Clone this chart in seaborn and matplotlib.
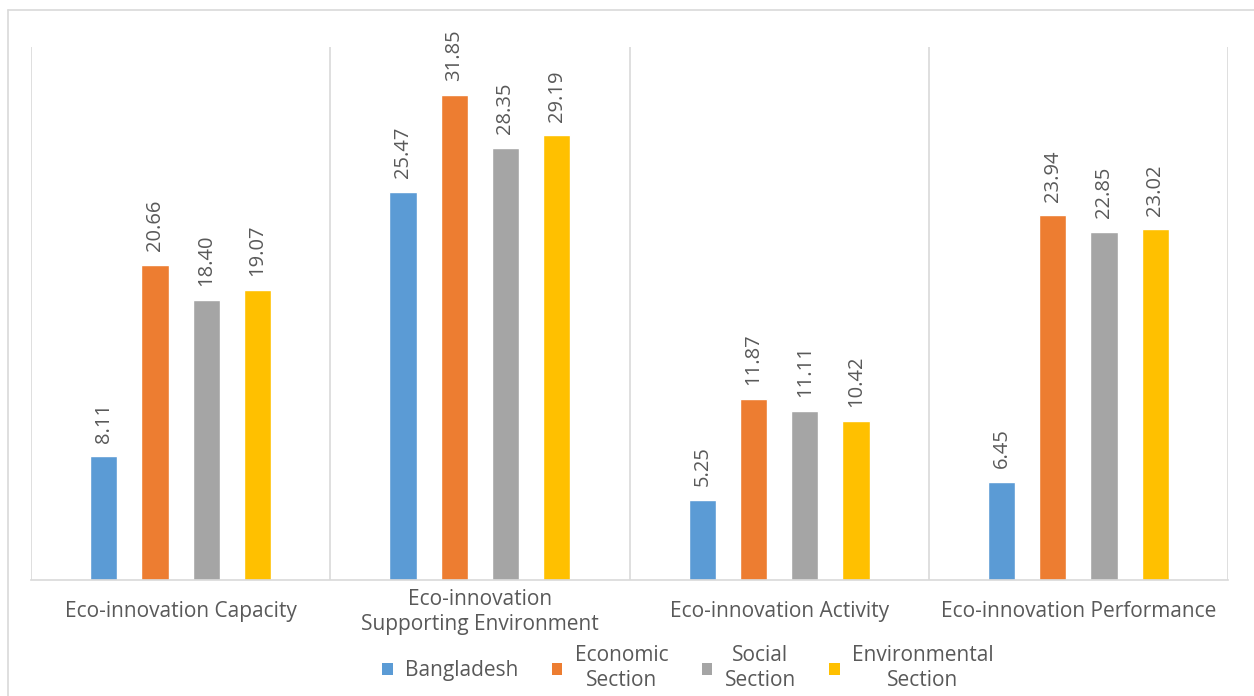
import matplotlib
matplotlib.use("Agg")
import matplotlib.pyplot as plt
import seaborn as sns
import pandas as pd
from matplotlib.patches import Patch
from matplotlib.lines import Line2D

categories = ["Eco-innovation Capacity",
              "Eco-innovation\nSupporting Environment",
              "Eco-innovation Activity",
              "Eco-innovation Performance"]
series = ["Bangladesh", "Economic\nSection", "Social\nSection", "Environmental\nSection"]
bangladesh = [8.11, 25.47, 5.25, 6.45]
economic = [20.66, 31.85, 11.87, 23.94]
social = [18.40, 28.35, 11.11, 22.85]
environmental = [19.07, 29.19, 10.42, 23.02]

colors = ["#5B9BD5", "#ED7D31", "#A5A5A5", "#FFC000"]
text_color = "#595959"
grid_color = "#D9D9D9"

rows = []
for s, vals in zip(series, [bangladesh, economic, social, environmental]):
    for c, v in zip(categories, vals):
        rows.append({"category": c, "series": s, "value": v})
df = pd.DataFrame(rows)

sns.set_theme(style="white")
plt.rcParams["font.family"] = ["Open Sans", "DejaVu Sans"]

fig = plt.figure(figsize=(12.54, 6.96), dpi=100)
ax = fig.add_axes([31/1254, 1-580/696, (1228-31)/1254, (580-47)/696])

sns.barplot(data=df, x="category", y="value", hue="series", order=categories,
            hue_order=series, palette=colors, width=0.685, gap=0.47,
            saturation=1, legend=False, ax=ax, errorbar=None)

for cont in ax.containers:
    ax.bar_label(cont, fmt="%.2f", rotation=90, padding=10, fontsize=14.5,
                 color=text_color)

ax.set_ylim(0, 35)
ax.set_xlim(-0.5, 3.5)
ax.set_yticks([])
ax.set_xlabel("")
ax.set_ylabel("")
for sp in ["top", "right", "left"]:
    ax.spines[sp].set_visible(False)
ax.spines["bottom"].set_color(grid_color)
ax.spines["bottom"].set_linewidth(1.2)
for xb in [-0.5, 0.5, 1.5, 2.5, 3.5]:
    ax.axvline(xb, color=grid_color, lw=1.2, zorder=0)

ax.tick_params(axis="x", length=0, pad=23, labelsize=15, colors=text_color)
for lbl in ax.get_xticklabels():
    lbl.set_va("center")
    lbl.set_linespacing(1.3)

handles = [Patch(facecolor=c, edgecolor="none") for c in colors]
leg = fig.legend(handles, series, loc="center", bbox_to_anchor=(688/1254, 1-668/696),
                 ncol=4, frameon=False, fontsize=15, labelcolor=text_color,
                 handlelength=0.5, handleheight=0.5, handletextpad=0.6,
                 columnspacing=1.6)
for t in leg.get_texts():
    t.set_multialignment("center")
    t.set_linespacing(1.25)

fig.add_artist(Line2D([8/1254, 8/1254], [0, 1-10/696], transform=fig.transFigure,
                      color=grid_color, lw=1.2))
fig.add_artist(Line2D([8/1254, 1], [1-10/696, 1-10/696], transform=fig.transFigure,
                      color=grid_color, lw=1.2))

fig.savefig("out.png", dpi=100)
